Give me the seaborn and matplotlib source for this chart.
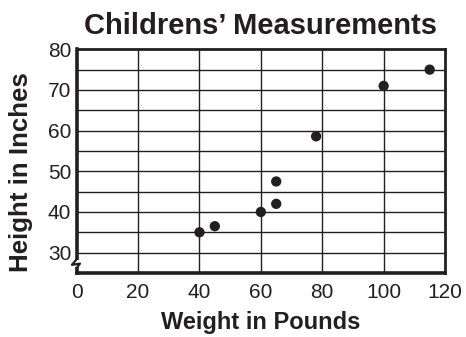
import matplotlib
matplotlib.use("Agg")
import matplotlib.pyplot as plt
import matplotlib.transforms as mtransforms
import numpy as np
import pandas as pd
import seaborn as sns

# Children's weight (lb) and height (in)
weights = [40, 45, 60, 65, 65, 78, 100, 115]
heights = [35, 36.5, 40, 42, 47.5, 58.6, 71, 75]

x_ticks = [0, 20, 40, 60, 80, 100, 120]
y_ticks = [30, 40, 50, 60, 70, 80]
y_grid = [30, 35, 40, 45, 50, 55, 60, 65, 70, 75]

ink = "#231f20"

sns.set_style("white")
plt.rcParams["font.family"] = ["Liberation Sans", "DejaVu Sans"]

df = pd.DataFrame({"Weight": weights, "Height": heights})

fig = plt.figure(figsize=(4.66, 3.37), dpi=100)
ax = fig.add_axes([0.1646, 0.19, 0.7904, 0.6637])

# grid lines
for yv in y_grid:
    ax.axhline(yv, color=ink, lw=1.0, zorder=1)
for xv in x_ticks[1:-1]:
    ax.axvline(xv, color=ink, lw=1.0, zorder=1)

sns.scatterplot(data=df, x="Weight", y="Height", ax=ax, s=55,
                color=ink, edgecolor="none", zorder=3, legend=False)

ax.set_xlim(0, 120)
ax.set_ylim(25, 80)
ax.set_xticks(x_ticks)
ax.set_yticks(y_ticks)
ax.tick_params(axis="both", length=0, labelsize=15, labelcolor=ink)
ax.tick_params(axis="x", pad=7)
ax.tick_params(axis="y", pad=4)

for side in ["top", "right"]:
    ax.spines[side].set_linewidth(2.0)
    ax.spines[side].set_color(ink)
for side in ["left", "bottom"]:
    ax.spines[side].set_linewidth(2.6)
    ax.spines[side].set_color(ink)

ax.set_xlabel("Weight in Pounds", fontsize=17, fontweight="bold", color=ink, labelpad=7)
ax.set_ylabel("Height in Inches", fontsize=18.6, fontweight="bold", color=ink)
ax.yaxis.set_label_coords(-0.118, 0.451)
ax.set_title("Childrens\u2019 Measurements", fontsize=21, fontweight="bold",
             color=ink, pad=11)

# axis break mark on the y axis
trans = mtransforms.blended_transform_factory(ax.transAxes, ax.transData)
ax.plot([0, 0], [26.5, 28.2], color="white", lw=4, transform=trans,
        clip_on=False, zorder=5, solid_capstyle="butt")
ax.plot([0, -0.013, 0.009, 0], [28.4, 27.0, 27.3, 26.3], color=ink, lw=1.6,
        transform=trans, clip_on=False, zorder=6)

fig.savefig("out.png", dpi=100)
